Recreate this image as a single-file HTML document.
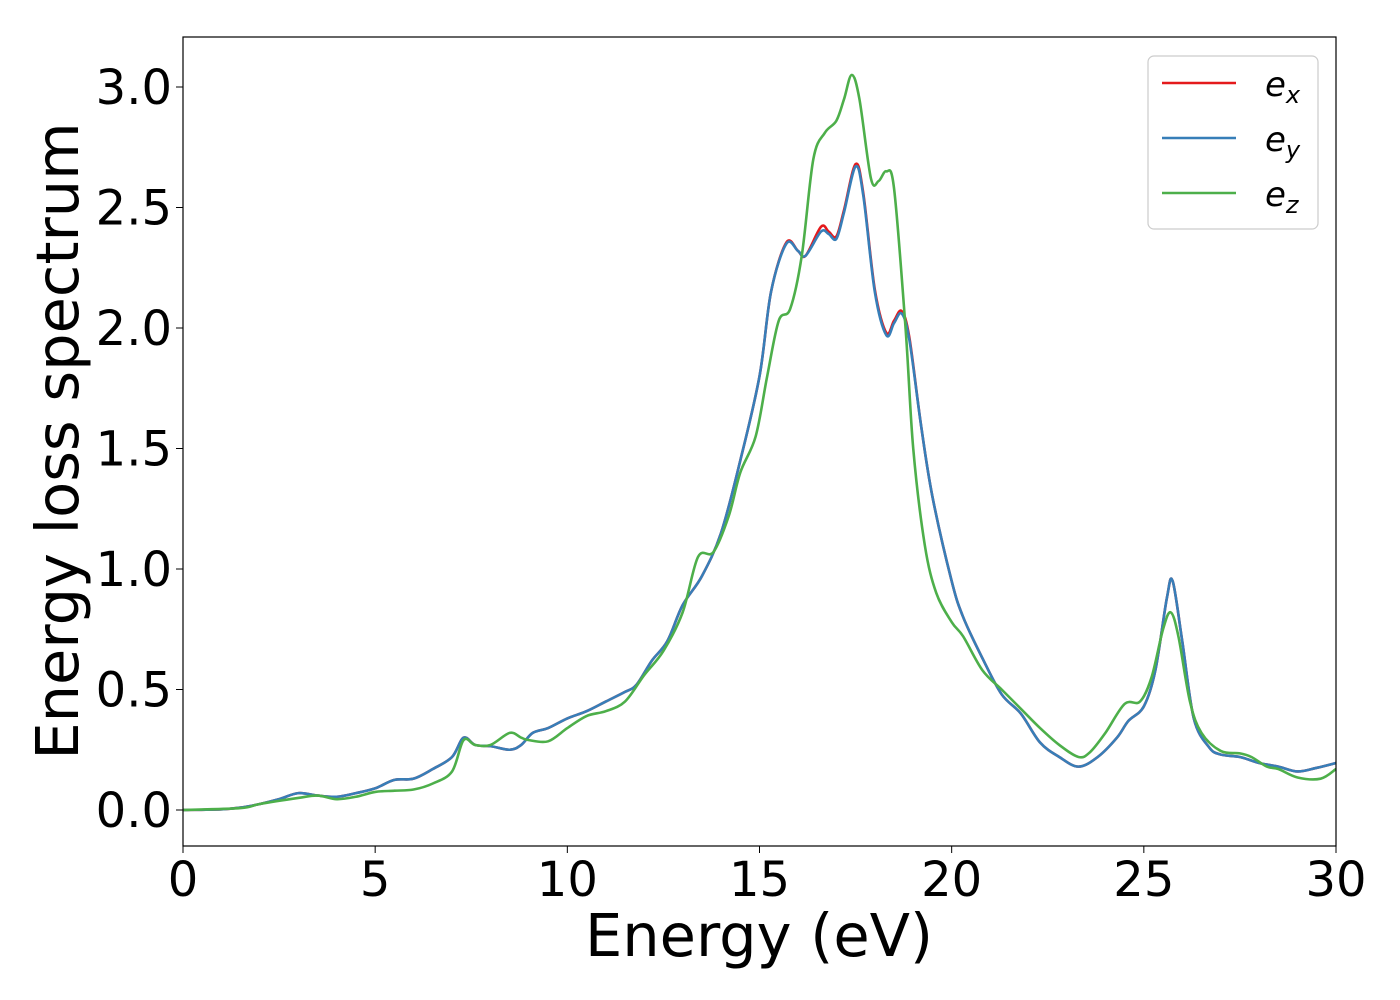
<!DOCTYPE html>
<html><head><meta charset="utf-8"><style>
html,body{margin:0;padding:0;background:#fff;}
svg{display:block;font-family:"DejaVu Sans","Liberation Sans",sans-serif;}
</style></head><body>
<svg id="chart" width="1400" height="1000" xmlns="http://www.w3.org/2000/svg">
<rect x="0" y="0" width="1400" height="1000" fill="#fff"/>
<g id="series"></g>
<rect x="183" y="37" width="1153" height="809" fill="none" stroke="#000" stroke-width="1.2"/>
<g id="axes"></g>
<text x="759" y="956" font-size="59" text-anchor="middle">Energy (eV)</text>
<text transform="translate(78,441) rotate(-90)" font-size="59" text-anchor="middle">Energy loss spectrum</text>
<g>
<rect x="1148" y="56" width="170" height="173" rx="6" fill="#fff" stroke="#ccc" stroke-width="1.2"/>
<line x1="1162" y1="83" x2="1236" y2="83" stroke="#e41a1c" stroke-width="2.6"/>
<text x="1265" y="96" font-size="34" font-style="italic">e<tspan font-size="24" dy="7">x</tspan></text>
<line x1="1162" y1="138" x2="1236" y2="138" stroke="#377eb8" stroke-width="2.6"/>
<text x="1265" y="151" font-size="34" font-style="italic">e<tspan font-size="24" dy="7">y</tspan></text>
<line x1="1162" y1="193" x2="1236" y2="193" stroke="#4daf4a" stroke-width="2.6"/>
<text x="1265" y="206" font-size="34" font-style="italic">e<tspan font-size="24" dy="7">z</tspan></text>
</g>
</svg>
<script>
const xTicks=[0,5,10,15,20,25,30];
const yTicks=[0.0,0.5,1.0,1.5,2.0,2.5,3.0];
const yTickLabels=["0.0","0.5","1.0","1.5","2.0","2.5","3.0"];
const eyX=[0,1,1.5,2,2.5,3,3.5,4,4.5,5,5.5,6,6.5,7,7.3,7.6,8,8.5,8.8,9.1,9.5,10,10.5,11,11.5,11.8,12.2,12.6,13,13.5,14,14.5,15,15.3,15.7,16,16.2,16.6,16.8,17,17.2,17.5,17.7,18,18.3,18.5,18.7,18.9,19.2,19.5,20,20.3,20.8,21.3,21.8,22.3,22.8,23.3,23.8,24.3,24.6,25,25.3,25.6,25.75,26,26.3,26.7,27,27.5,28,28.5,29,29.5,30];
const eyY=[0,0.003,0.01,0.025,0.045,0.07,0.06,0.055,0.07,0.09,0.125,0.13,0.17,0.22,0.30,0.27,0.265,0.25,0.27,0.32,0.34,0.38,0.41,0.45,0.49,0.52,0.62,0.70,0.85,0.97,1.15,1.45,1.80,2.15,2.35,2.32,2.30,2.40,2.39,2.37,2.48,2.67,2.55,2.15,1.97,2.02,2.06,1.95,1.60,1.30,0.95,0.80,0.63,0.48,0.40,0.28,0.22,0.18,0.22,0.30,0.37,0.43,0.58,0.88,0.95,0.70,0.38,0.26,0.23,0.22,0.195,0.18,0.16,0.175,0.195];
const exY=[0,0.003,0.01,0.025,0.045,0.07,0.06,0.055,0.07,0.09,0.125,0.13,0.17,0.22,0.30,0.27,0.265,0.25,0.27,0.32,0.34,0.38,0.41,0.45,0.49,0.52,0.62,0.70,0.85,0.97,1.15,1.45,1.80,2.15,2.355,2.32,2.30,2.42,2.40,2.38,2.49,2.68,2.56,2.16,1.98,2.03,2.07,1.96,1.60,1.30,0.95,0.80,0.63,0.48,0.40,0.28,0.22,0.18,0.22,0.30,0.37,0.43,0.58,0.88,0.95,0.70,0.38,0.26,0.23,0.22,0.195,0.18,0.16,0.175,0.195];
const ezX=[0,1.5,2,3,3.5,4,4.5,5,5.5,6,6.5,7,7.3,7.6,8,8.5,8.8,9,9.5,10,10.5,11,11.5,12,12.5,13,13.4,13.8,14.2,14.5,14.9,15.2,15.5,15.8,16.1,16.4,16.7,17,17.2,17.4,17.6,17.9,18.1,18.3,18.5,18.8,19,19.3,19.6,20,20.3,20.8,21.3,21.8,22.3,22.8,23.3,23.6,24,24.5,24.9,25.2,25.5,25.7,25.9,26.2,26.5,27,27.5,27.8,28.2,28.5,29,29.6,30];
const ezY=[0,0.008,0.025,0.05,0.06,0.045,0.055,0.075,0.08,0.085,0.11,0.16,0.29,0.27,0.27,0.32,0.30,0.29,0.285,0.34,0.39,0.41,0.45,0.56,0.66,0.82,1.05,1.07,1.22,1.40,1.55,1.80,2.03,2.08,2.30,2.70,2.81,2.86,2.95,3.05,2.95,2.62,2.61,2.65,2.58,2.0,1.50,1.10,0.90,0.78,0.72,0.58,0.50,0.42,0.34,0.27,0.22,0.24,0.32,0.44,0.45,0.55,0.75,0.82,0.72,0.45,0.32,0.245,0.235,0.22,0.18,0.17,0.135,0.13,0.17];
const NS="http://www.w3.org/2000/svg";
const X0=183,X1=1336,Y0=810,Y3=87;
function sx(v){return X0+(X1-X0)*v/30;}
function sy(v){return Y0+(Y3-Y0)*v/3;}
const axes=document.getElementById('axes');
xTicks.forEach(t=>{
 const l=document.createElementNS(NS,'line');
 l.setAttribute('x1',sx(t));l.setAttribute('x2',sx(t));l.setAttribute('y1',846);l.setAttribute('y2',853);l.setAttribute('stroke','#000');
 
 
 axes.appendChild(l);
 const tx=document.createElementNS(NS,'text');
 tx.setAttribute('x',sx(t));tx.setAttribute('y',896);tx.setAttribute('font-size','48');tx.setAttribute('text-anchor','middle');
 tx.textContent=t;
 
 
 axes.appendChild(tx);
});
yTicks.forEach((t,i)=>{
 const l=document.createElementNS(NS,'line');
 l.setAttribute('x1',176);l.setAttribute('x2',183);l.setAttribute('y1',sy(t));l.setAttribute('y2',sy(t));l.setAttribute('stroke','#000');
 
 
 axes.appendChild(l);
 const tx=document.createElementNS(NS,'text');
 tx.setAttribute('x',172);tx.setAttribute('y',sy(t)+17);tx.setAttribute('font-size','48');tx.setAttribute('text-anchor','end');
 tx.textContent=yTickLabels[i];
 
 
 axes.appendChild(tx);
});
function smooth(xs,ys){
 const p=xs.map((x,i)=>[sx(x),sy(ys[i])]);
 let d='M'+p[0][0]+','+p[0][1];
 for(let i=0;i<p.length-1;i++){
  const a=p[i-1]||p[i],b=p[i],c=p[i+1],e=p[i+2]||c;
  const c1=[b[0]+(c[0]-a[0])/6,b[1]+(c[1]-a[1])/6];
  const c2=[c[0]-(e[0]-b[0])/6,c[1]-(e[1]-b[1])/6];
  d+=' C'+c1[0]+','+c1[1]+' '+c2[0]+','+c2[1]+' '+c[0]+','+c[1];
 }
 return d;
}
const g=document.getElementById('series');
function addLine(xs,ys,color,name){
 const pth=document.createElementNS(NS,'path');
 pth.setAttribute('d',smooth(xs,ys));pth.setAttribute('fill','none');pth.setAttribute('stroke',color);pth.setAttribute('stroke-width','2.6');pth.setAttribute('stroke-linejoin','round');
 
 
 g.appendChild(pth);
}
addLine(eyX,exY,'#e41a1c','series-ex');
addLine(eyX,eyY,'#377eb8','series-ey');
addLine(ezX,ezY,'#4daf4a','series-ez');
</script>
</body></html>
